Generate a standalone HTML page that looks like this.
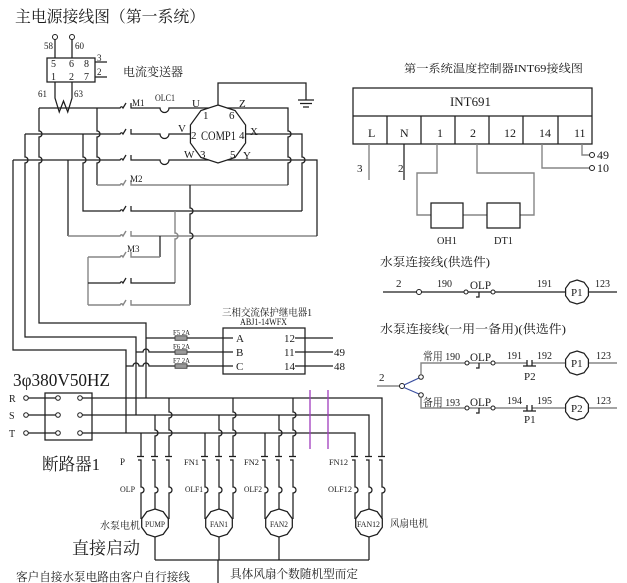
<!DOCTYPE html>
<html><head><meta charset="utf-8"><style>
html,body{margin:0;padding:0;background:#fff;}
svg{display:block}
text{font-family:"Liberation Serif","Noto Serif CJK SC",serif;fill:#1a1a1a}
.k{stroke:#1e1e1e;stroke-width:1.25;fill:none}
.g{stroke:#858585;stroke-width:1.4;fill:none}
.c{stroke:#1e1e1e;stroke-width:1;fill:#fff}
</style></head><body>
<svg width="627" height="583" viewBox="0 0 627 583" xmlns="http://www.w3.org/2000/svg">
<rect width="627" height="583" fill="#fff"/>
<!-- Title -->
<text x="15" y="22" font-size="16" textLength="190" lengthAdjust="spacingAndGlyphs">主电源接线图（第一系统）</text>

<!-- current transmitter -->
<circle class="c" cx="55" cy="37" r="2.5"/><circle class="c" cx="72" cy="37" r="2.5"/>
<path class="k" d="M55,39.5V58M72,39.5V58M95,62H107M95,77H107M55,82V98L59.25,112L63.5,101L67.75,112L72,98V82"/>
<rect class="k" x="47" y="58" width="48" height="24"/>
<text x="44" y="49" font-size="9">58</text><text x="75" y="49" font-size="9">60</text>
<text x="51" y="67" font-size="10">5</text><text x="69" y="67" font-size="10">6</text><text x="84" y="67" font-size="10">8</text>
<text x="51" y="80" font-size="10">1</text><text x="69" y="80" font-size="10">2</text><text x="84" y="80" font-size="10">7</text>
<text x="97" y="61" font-size="9">3</text><text x="97" y="75" font-size="9">2</text>
<text x="38" y="97" font-size="9">61</text><text x="74" y="97" font-size="9">63</text>
<text x="123" y="76" font-size="12" textLength="60" lengthAdjust="spacingAndGlyphs">电流变送器</text>

<!-- main left wiring -->
<path class="k" d="M39,108V131A3,3 0 0 1 39,137V157A3,3 0 0 1 39,163V323H146V398"/>
<path class="k" d="M25,134V157A3,3 0 0 1 25,163V337H136V415"/>
<path class="k" d="M13,160V350H126V433"/>
<!-- U V W with contacts -->
<path class="k" d="M39,108H120Q121.5,105.5 123,108L126,103M131,103V108H160A4.5,4.5 0 0 0 169,108H208.8"/>
<path class="k" d="M25,134H120Q121.5,131.5 123,134L126,129M131,129V134H160A4.5,4.5 0 0 0 169,134H190.4"/>
<path class="k" d="M13,160H120Q121.5,157.5 123,160L126,155M131,155V160H160A4.5,4.5 0 0 0 169,160H208.8"/>
<!-- M2 row -->
<path class="k" d="M97,108V131A3,3 0 0 1 97,137V157A3,3 0 0 1 97,163V185"/>
<path class="g" d="M97,185H120Q121.5,182.5 123,185L126,180M131,180V185H288"/>
<path class="k" d="M83,134V157A3,3 0 0 1 83,163V211H120Q121.5,208.5 123,211L126,206M131,206V211H302"/>
<path class="k" d="M68,160V236"/>
<path class="g" d="M68,236H120Q121.5,233.5 123,236L126,231M131,231V236H317"/>
<!-- Z X Y returns -->
<path class="k" d="M227.2,108H288V131A3,3 0 0 1 288,137V157A3,3 0 0 1 288,163V185"/>
<path class="k" d="M245.6,134H302V157A3,3 0 0 1 302,163V211"/>
<path class="k" d="M227.2,160H317V236"/>
<!-- star -->
<path class="k" d="M190,185V208A3,3 0 0 1 190,214V233A3,3 0 0 1 190,239V305"/>
<path class="g" d="M175,211V233A3,3 0 0 1 175,239V283"/>
<path class="k" d="M160,236V257"/>
<path class="g" d="M88,257V305"/>
<path class="g" d="M88,257H120Q121.5,254.5 123,257L126,252M131,252V257H160"/>
<path class="k" d="M88,283H120Q121.5,280.5 123,283L126,278M131,278V283H175"/>
<path class="g" d="M88,305H120Q121.5,302.5 123,305L126,300M131,300V305H190"/>
<text x="132" y="106" font-size="9">M1</text>
<text x="155" y="101" font-size="9" textLength="20" lengthAdjust="spacingAndGlyphs">OLC1</text>
<text x="130" y="182" font-size="9">M2</text>
<text x="127" y="252" font-size="9">M3</text>

<!-- compressor -->
<polygon class="k" points="218,105 235.05,110.54 245.58,125.04 245.58,142.96 235.05,157.46 218,163 200.95,157.46 190.42,142.96 190.42,125.04 200.95,110.54"/>
<text x="201" y="140" font-size="13" textLength="35" lengthAdjust="spacingAndGlyphs">COMP1</text>
<text x="203" y="119" font-size="11">1</text><text x="229" y="119" font-size="11">6</text>
<text x="191" y="139" font-size="11">2</text><text x="239" y="139" font-size="11">4</text>
<text x="200" y="158" font-size="11">3</text><text x="230" y="158" font-size="11">5</text>
<text x="192" y="107" font-size="11">U</text><text x="239" y="107" font-size="11">Z</text>
<text x="178" y="132" font-size="11">V</text><text x="250" y="135" font-size="11">X</text>
<text x="184" y="158" font-size="11">W</text><text x="243" y="159" font-size="11">Y</text>
<!-- ground -->
<path class="k" d="M218,105V83H306V100M298,100H314M300,103.5H312M303,107H309"/>

<!-- relay -->
<path class="k" d="M146,338H175M187,338H233"/>
<path class="k" d="M136,352H143A3,3 0 0 1 149,352H175M187,352H233"/>
<path class="k" d="M126,366H133A3,3 0 0 1 139,366H143A3,3 0 0 1 149,366H175M187,366H233"/>
<rect x="175" y="335.8" width="12" height="4.5" fill="#999" stroke="#333" stroke-width="0.8"/>
<rect x="175" y="349.8" width="12" height="4.5" fill="#999" stroke="#333" stroke-width="0.8"/>
<rect x="175" y="363.8" width="12" height="4.5" fill="#999" stroke="#333" stroke-width="0.8"/>
<text x="173" y="335" font-size="7" textLength="17" lengthAdjust="spacingAndGlyphs">F5 2A</text>
<text x="173" y="349" font-size="7" textLength="17" lengthAdjust="spacingAndGlyphs">F6 2A</text>
<text x="173" y="363" font-size="7" textLength="17" lengthAdjust="spacingAndGlyphs">F7 2A</text>
<rect class="k" x="223" y="328" width="82" height="46"/>
<path class="k" d="M295,338H333M295,352H333M295,366H333"/>
<text x="222" y="316" font-size="10" textLength="90" lengthAdjust="spacingAndGlyphs">三相交流保护继电器1</text>
<text x="240" y="325" font-size="9" textLength="47" lengthAdjust="spacingAndGlyphs">ABJ1-14WFX</text>
<text x="236" y="342" font-size="11">A</text><text x="236" y="356" font-size="11">B</text><text x="236" y="370" font-size="11">C</text>
<text x="284" y="342" font-size="11">12</text><text x="284" y="356" font-size="11">11</text><text x="284" y="370" font-size="11">14</text>
<text x="334" y="356" font-size="11">49</text><text x="334" y="370" font-size="11">48</text>

<!-- RST -->
<text x="13" y="386" font-size="18" textLength="97" lengthAdjust="spacingAndGlyphs">3φ380V50HZ</text>
<text x="9" y="402" font-size="10">R</text><text x="9" y="419" font-size="10">S</text><text x="9" y="437" font-size="10">T</text>
<rect class="k" x="45" y="393" width="47" height="47"/>
<path class="k" d="M28.3,398H55.7M82.3,398H382V456M28.3,415H55.7M82.3,415H369V456M28.3,433H55.7M82.3,433H355V456"/>
<circle class="c" cx="26" cy="398" r="2.3"/><circle class="c" cx="58" cy="398" r="2.3"/><circle class="c" cx="80" cy="398" r="2.3"/>
<circle class="c" cx="26" cy="415" r="2.3"/><circle class="c" cx="58" cy="415" r="2.3"/><circle class="c" cx="80" cy="415" r="2.3"/>
<circle class="c" cx="26" cy="433" r="2.3"/><circle class="c" cx="58" cy="433" r="2.3"/><circle class="c" cx="80" cy="433" r="2.3"/>
<text x="42" y="470" font-size="17" textLength="58" lengthAdjust="spacingAndGlyphs">断路器1</text>

<!-- motor feeders -->
<path class="k" d="M141,433V456M155,415V430A3,3 0 0 1 155,436V456M169,398V412A3,3 0 0 1 169,418V430A3,3 0 0 1 169,436V456"/>
<path class="k" d="M205,433V456M219,415V430A3,3 0 0 1 219,436V456M233,398V412A3,3 0 0 1 233,418V430A3,3 0 0 1 233,436V456"/>
<path class="k" d="M265,433V456M279,415V430A3,3 0 0 1 279,436V456M293,398V412A3,3 0 0 1 293,418V430A3,3 0 0 1 293,436V456"/>
<!-- contacts caps -->
<path class="k" d="M137,456.5H144M151,456.5H158M165,456.5H172M201,456.5H208M215,456.5H222M229,456.5H236M261,456.5H268M275,456.5H282M289,456.5H296M351,456.5H358M365,456.5H372M378,456.5H385"/>
<!-- lower legs -->
<path class="k" d="M138,460H141V487A3,3 0 0 1 141,493V519M152,460H155V487A3,3 0 0 1 155,493V509M166,460H169V487A3,3 0 0 1 169,493V519"/>
<path class="k" d="M202,460H205V487A3,3 0 0 1 205,493V519M216,460H219V487A3,3 0 0 1 219,493V509M230,460H233V487A3,3 0 0 1 233,493V519"/>
<path class="k" d="M262,460H265V487A3,3 0 0 1 265,493V519M276,460H279V487A3,3 0 0 1 279,493V509M290,460H293V487A3,3 0 0 1 293,493V519"/>
<path class="k" d="M352,460H355V487A3,3 0 0 1 355,493V519M366,460H369V487A3,3 0 0 1 369,493V509M379,460H382V487A3,3 0 0 1 382,493V519"/>
<!-- motors -->
<polygon class="k" points="155,509 163.2,511.7 168.3,518.7 168.3,527.3 163.2,534.3 155,537 146.8,534.3 141.7,527.3 141.7,518.7 146.8,511.7"/>
<polygon class="k" points="219,509 227.2,511.7 232.3,518.7 232.3,527.3 227.2,534.3 219,537 210.8,534.3 205.7,527.3 205.7,518.7 210.8,511.7"/>
<polygon class="k" points="279,509 287.2,511.7 292.3,518.7 292.3,527.3 287.2,534.3 279,537 270.8,534.3 265.7,527.3 265.7,518.7 270.8,511.7"/>
<polygon class="k" points="369,509 377.2,511.7 382.3,518.7 382.3,527.3 377.2,534.3 369,537 360.8,534.3 355.7,527.3 355.7,518.7 360.8,511.7"/>
<text x="145" y="527" font-size="8" textLength="20" lengthAdjust="spacingAndGlyphs">PUMP</text>
<text x="210" y="527" font-size="8" textLength="18" lengthAdjust="spacingAndGlyphs">FAN1</text>
<text x="270" y="527" font-size="8" textLength="18" lengthAdjust="spacingAndGlyphs">FAN2</text>
<text x="357" y="527" font-size="8" textLength="23" lengthAdjust="spacingAndGlyphs">FAN12</text>
<path class="k" d="M155,537V560M219,537V560M279,537V560M369,537V560M155,560H369M218,560V583"/>
<!-- purple -->
<path d="M310,390V449M328,390V449" stroke="#a03cbe" stroke-width="1.3" fill="none"/>
<!-- motor labels -->
<text x="120" y="465" font-size="9">P</text>
<text x="184" y="465" font-size="8" textLength="15" lengthAdjust="spacingAndGlyphs">FN1</text>
<text x="244" y="465" font-size="8" textLength="15" lengthAdjust="spacingAndGlyphs">FN2</text>
<text x="329" y="465" font-size="8" textLength="19" lengthAdjust="spacingAndGlyphs">FN12</text>
<text x="120" y="492" font-size="8" textLength="15" lengthAdjust="spacingAndGlyphs">OLP</text>
<text x="185" y="492" font-size="8" textLength="18" lengthAdjust="spacingAndGlyphs">OLF1</text>
<text x="244" y="492" font-size="8" textLength="18" lengthAdjust="spacingAndGlyphs">OLF2</text>
<text x="328" y="492" font-size="8" textLength="24" lengthAdjust="spacingAndGlyphs">OLF12</text>
<text x="100" y="529" font-size="10" textLength="40" lengthAdjust="spacingAndGlyphs">水泵电机</text>
<text x="390" y="527" font-size="10" textLength="38" lengthAdjust="spacingAndGlyphs">风扇电机</text>
<text x="72" y="554" font-size="17" textLength="68" lengthAdjust="spacingAndGlyphs">直接启动</text>
<text x="16" y="581" font-size="12" textLength="174" lengthAdjust="spacingAndGlyphs">客户自接水泵电路由客户自行接线</text>
<text x="230" y="578" font-size="12" textLength="128" lengthAdjust="spacingAndGlyphs">具体风扇个数随机型而定</text>

<!-- INT69 -->
<text x="404" y="72" font-size="11" textLength="179" lengthAdjust="spacingAndGlyphs">第一系统温度控制器INT69接线图</text>
<rect class="k" x="353" y="88" width="239" height="56"/>
<path class="k" d="M353,116H592M387,116V144M421,116V144M455,116V144M489,116V144M523,116V144M558,116V144"/>
<text x="450" y="106" font-size="13" textLength="41" lengthAdjust="spacingAndGlyphs">INT691</text>
<text x="368" y="137" font-size="12">L</text><text x="400" y="137" font-size="12">N</text>
<text x="437" y="137" font-size="12">1</text><text x="470" y="137" font-size="12">2</text>
<text x="504" y="137" font-size="12">12</text><text x="539" y="137" font-size="12">14</text>
<text x="574" y="137" font-size="12">11</text>
<path class="g" d="M369,144V180"/>
<path class="k" d="M404,144V180"/>
<path class="g" d="M437,144V173H417V215H431M463,215H487M520,215H534V173H477V144M542,144V168H589.5M582,144V155H589.5"/>
<rect class="k" x="431" y="203" width="32" height="25"/>
<rect class="k" x="487" y="203" width="33" height="25"/>
<circle class="c" cx="592" cy="155" r="2.5"/><circle class="c" cx="592" cy="168" r="2.5"/>
<text x="357" y="172" font-size="11">3</text><text x="398" y="172" font-size="11">2</text>
<text x="597" y="159" font-size="12">49</text><text x="597" y="172" font-size="12">10</text>
<text x="437" y="244" font-size="11" textLength="20" lengthAdjust="spacingAndGlyphs">OH1</text>
<text x="494" y="244" font-size="11" textLength="19" lengthAdjust="spacingAndGlyphs">DT1</text>

<!-- pump section 1 -->
<text x="380" y="266" font-size="12" textLength="110" lengthAdjust="spacingAndGlyphs">水泵连接线(供选件)</text>
<path class="k" d="M383,292H416.5M421.5,292H464M468,292H491M479,292V297H476M495,292H565.6M588.4,292H617"/>
<circle class="c" cx="419" cy="292" r="2.5"/><circle class="c" cx="466" cy="292" r="2"/><circle class="c" cx="493" cy="292" r="2"/>
<polygon class="k" points="577,280 584.05,282.29 588.41,288.29 588.41,295.71 584.05,301.71 577,304 569.95,301.71 565.59,295.71 565.59,288.29 569.95,282.29"/>
<text x="571" y="296" font-size="11">P1</text>
<text x="396" y="287" font-size="11">2</text>
<text x="437" y="287" font-size="11" textLength="15" lengthAdjust="spacingAndGlyphs">190</text>
<text x="470" y="289" font-size="12" textLength="21" lengthAdjust="spacingAndGlyphs">OLP</text>
<text x="537" y="287" font-size="11" textLength="15" lengthAdjust="spacingAndGlyphs">191</text>
<text x="595" y="287" font-size="11" textLength="15" lengthAdjust="spacingAndGlyphs">123</text>

<!-- pump section 2 -->
<text x="380" y="333" font-size="12" textLength="186" lengthAdjust="spacingAndGlyphs">水泵连接线(一用一备用)(供选件)</text>
<text x="379" y="381" font-size="11">2</text>
<path class="g" d="M377,386H399.5"/>
<circle class="c" cx="402" cy="386" r="2.5"/>
<path d="M404,385L419,378M404,387.5L419,394" stroke="#3a4fa0" stroke-width="1.2" fill="none"/>
<circle class="c" cx="421" cy="377" r="2.3"/><circle class="c" cx="421" cy="395" r="2.3"/>
<path class="g" d="M421,374.7V363H465M469,363H491M495,363H527M532,363H565.6M588.4,363H617"/>
<path class="k" d="M479,363V368H476M527,360V366M532,360V366M523,366H536"/>
<circle class="c" cx="467" cy="363" r="2"/><circle class="c" cx="493" cy="363" r="2"/>
<polygon class="k" points="577,351 584.05,353.29 588.41,359.29 588.41,366.71 584.05,372.71 577,375 569.95,372.71 565.59,366.71 565.59,359.29 569.95,353.29"/>
<text x="571" y="367" font-size="11">P1</text>
<path class="g" d="M421,397.3V408H465M469,408H491M495,408H527M532,408H565.6M588.4,408H617"/>
<path class="k" d="M479,408V413H476M527,405V411M532,405V411M523,411H536"/>
<circle class="c" cx="467" cy="408" r="2"/><circle class="c" cx="493" cy="408" r="2"/>
<polygon class="k" points="577,396 584.05,398.29 588.41,404.29 588.41,411.71 584.05,417.71 577,420 569.95,417.71 565.59,411.71 565.59,404.29 569.95,398.29"/>
<text x="571" y="412" font-size="11">P2</text>
<text x="423" y="360" font-size="11" textLength="37" lengthAdjust="spacingAndGlyphs">常用 190</text>
<text x="470" y="361" font-size="12" textLength="21" lengthAdjust="spacingAndGlyphs">OLP</text>
<text x="507" y="359" font-size="11" textLength="15" lengthAdjust="spacingAndGlyphs">191</text>
<text x="537" y="359" font-size="11" textLength="15" lengthAdjust="spacingAndGlyphs">192</text>
<text x="596" y="359" font-size="11" textLength="15" lengthAdjust="spacingAndGlyphs">123</text>
<text x="524" y="380" font-size="11">P2</text>
<text x="423" y="406" font-size="11" textLength="37" lengthAdjust="spacingAndGlyphs">备用 193</text>
<text x="470" y="406" font-size="12" textLength="21" lengthAdjust="spacingAndGlyphs">OLP</text>
<text x="507" y="404" font-size="11" textLength="15" lengthAdjust="spacingAndGlyphs">194</text>
<text x="537" y="404" font-size="11" textLength="15" lengthAdjust="spacingAndGlyphs">195</text>
<text x="596" y="404" font-size="11" textLength="15" lengthAdjust="spacingAndGlyphs">123</text>
<text x="524" y="423" font-size="11">P1</text>
</svg>
</body></html>
